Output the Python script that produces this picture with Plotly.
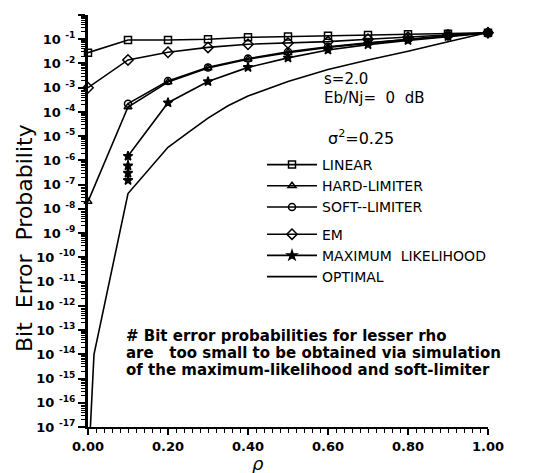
import plotly.graph_objects as go

# ---------------- data ----------------
rho = [0.0, 0.1, 0.2, 0.3, 0.4, 0.5, 0.6, 0.7, 0.8, 0.9, 1.0]
linear = [2.8e-2, 9.3e-2, 9.3e-2, 0.10, 0.12, 0.13, 0.14, 0.15, 0.16, 0.17, 0.185]
hard_limiter = [2.0e-8, 1.6e-4, 1.7e-3, 6.5e-3, 1.5e-2, 2.8e-2, 4.6e-2, 7.0e-2, 0.10, 0.14, 0.185]
em = [1.0e-3, 1.4e-2, 2.9e-2, 4.6e-2, 6.2e-2, 7.0e-2, 8.0e-2, 0.10, 0.12, 0.15, 0.185]

rho_soft = [0.1, 0.2, 0.3, 0.4, 0.5, 0.6, 0.7, 0.8, 0.9, 1.0]
soft_limiter = [2.2e-4, 1.9e-3, 6.9e-3, 1.6e-2, 3.0e-2, 4.9e-2, 7.2e-2, 0.10, 0.14, 0.185]

rho_ml = [0.1, 0.1, 0.1, 0.1, 0.2, 0.3, 0.4, 0.5, 0.6, 0.7, 0.8, 0.9, 1.0]
max_likelihood = [1.5e-7, 3.0e-7, 6.0e-7, 1.5e-6, 2.4e-4, 1.8e-3, 6.9e-3, 1.7e-2, 3.6e-2, 6.0e-2, 9.0e-2, 0.13, 0.18]

rho_opt = [0.006, 0.015, 0.1, 0.15, 0.2, 0.25, 0.3, 0.35, 0.4, 0.5, 0.6, 0.7, 0.8, 0.9, 1.0]
optimal = [1e-17, 1e-14, 4.3e-8, 4.0e-7, 3.5e-6, 1.4e-5, 5.6e-5, 1.8e-4, 4.5e-4, 1.8e-3, 5.6e-3, 1.4e-2, 3.2e-2, 7.9e-2, 0.19]

ytick_vals = [10.0 ** (-k) for k in range(0, 18)]
ytick_text = ["1"] + ["10 <sup>-%d</sup>" % k for k in range(1, 18)]
xtick_vals = [0.0, 0.2, 0.4, 0.6, 0.8, 1.0]
xtick_text = ["0.00", "0.20", "0.40", "0.60", "0.80", "1.00"]

# ---------------- figure ----------------
FONT = "DejaVu Sans, Liberation Sans, sans-serif"
fig = go.Figure()

def add(x, y, name, symbol, group, size=7, mode="lines+markers"):
    fig.add_trace(go.Scatter(
        x=x, y=y, name=name, mode=mode, legendgroup=group,
        line=dict(color="black", width=1.6),
        marker=dict(symbol=symbol, size=size, color="black",
                    line=dict(color="black", width=1.5)),
        cliponaxis=False,
    ))

add(rho, linear, "LINEAR", "square-open", "a")
add(rho, hard_limiter, "HARD-LIMITER", "triangle-up-open", "a")
add(rho_soft, soft_limiter, "SOFT--LIMITER", "circle-open", "a")
add(rho, em, "EM", "diamond-open", "b", size=8)
add(rho_ml, max_likelihood, "MAXIMUM  LIKELIHOOD", "star", "b", size=7)
fig.add_trace(go.Scatter(x=rho_opt, y=optimal, name="OPTIMAL", mode="lines",
                         legendgroup="b", line=dict(color="black", width=1.6),
                         cliponaxis=False))

minor_y = [m * 10.0 ** (-k) for k in range(1, 18) for m in range(2, 10)]

fig.update_xaxes(
    range=[0, 1.0], tickmode="array", tickvals=xtick_vals, ticktext=xtick_text,
    ticks="outside", ticklen=6, tickwidth=1.5, tickcolor="black",
    showline=True, linecolor="black", linewidth=2, showgrid=False, zeroline=False,
    tickfont=dict(family=FONT, size=13, color="black", weight="bold"),
    minor=dict(tickmode="array", tickvals=[i * 0.02 for i in range(51)],
               ticks="outside", ticklen=4, tickwidth=1.2, tickcolor="black", showgrid=False),
)
fig.update_yaxes(
    type="log", range=[-17, 0], tickmode="array", tickvals=ytick_vals, ticktext=ytick_text,
    ticks="outside", ticklen=7, tickwidth=1.8, tickcolor="black",
    showline=True, linecolor="black", linewidth=3, showgrid=False, zeroline=False,
    tickfont=dict(family=FONT, size=13, color="black", weight="bold"),
    minor=dict(tickmode="array", tickvals=minor_y,
               ticks="outside", ticklen=4, tickwidth=1.2, tickcolor="black", showgrid=False),
)

# page offset of the figure inside the html body (default body margin)
OFF = 8
W, H = 534, 465
L, T = 88 - OFF, 15 - OFF
PW, PH = 400, 412
R, B = W - L - PW, H - T - PH

def px(xp):
    return (xp - OFF - L) / PW

def py(yp):
    return (T + PH - (yp - OFF)) / PH

ann = []
def text(s, x, y, size=15, xanchor="left", weight="normal", **kw):
    ann.append(dict(text=s, x=px(x), y=py(y), xref="paper", yref="paper",
                    xanchor=xanchor, yanchor="middle", showarrow=False,
                    font=dict(family=FONT, size=size, color="black", weight=weight), **kw))

text("s=2.0", 322, 79, size=15)
text("Eb/Nj=\u00a0\u00a00\u00a0\u00a0dB", 322, 98, size=15)
text("\u03c3<sup>2</sup>=0.25", 326, 137, size=16)
text("# Bit error probabilities for lesser rho", 124, 336, size=15, weight="bold")
text("are\u00a0\u00a0\u00a0too small to be obtained via simulation", 124, 353, size=15, weight="bold")
text("of the maximum-likelihood and soft-limiter", 124, 370, size=15, weight="bold")
text("<i>\u03c1</i>", 258, 463, size=18, xanchor="center")
ann.append(dict(text="Bit  Error  Probability", x=px(24), y=py(238), xref="paper", yref="paper",
                xanchor="center", yanchor="middle", showarrow=False, textangle=-90,
                font=dict(family=FONT, size=22, color="black")))

fig.update_layout(
    width=W, height=H,
    margin=dict(l=L, r=R, t=T, b=B, autoexpand=False),
    paper_bgcolor="white", plot_bgcolor="white",
    annotations=ann,
    showlegend=True,
    legend=dict(x=px(262), y=py(149), xanchor="left", yanchor="top",
                bgcolor="rgba(0,0,0,0)", borderwidth=0,
                font=dict(family=FONT, size=14, color="black"),
                itemwidth=50, tracegroupgap=6, traceorder="grouped"),
)

fig.write_html("out.html")
